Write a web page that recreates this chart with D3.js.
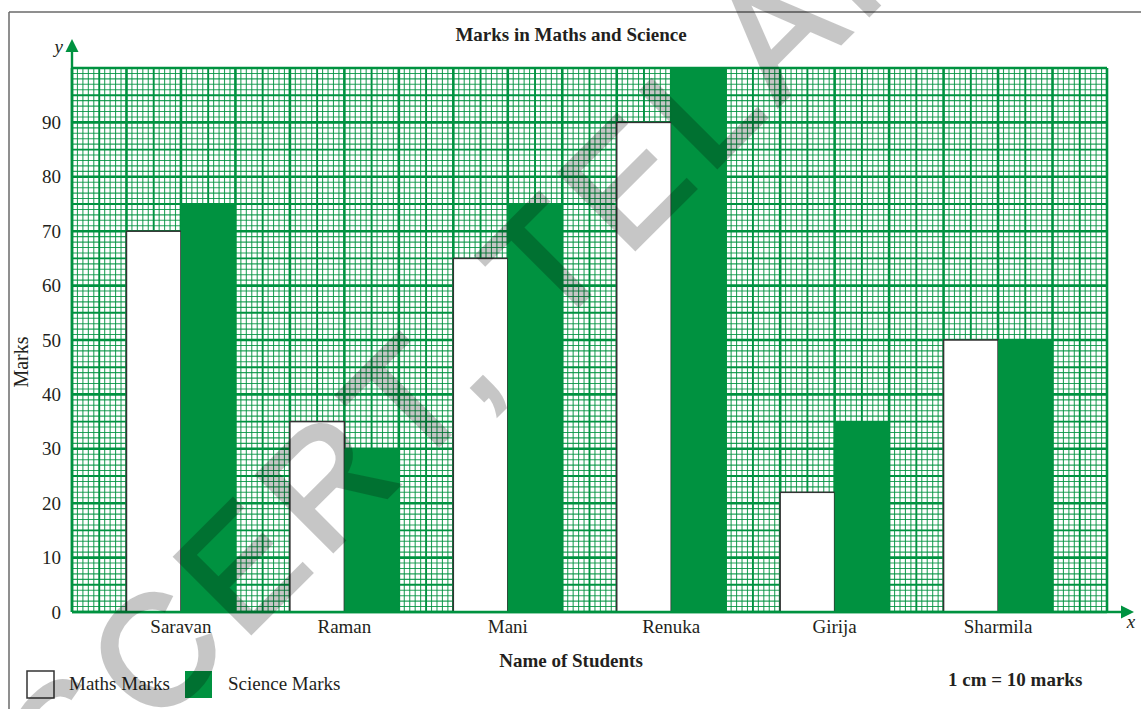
<!DOCTYPE html>
<html>
<head>
<meta charset="utf-8">
<script src="https://cdn.jsdelivr.net/npm/d3@7"></script>
<style>
  html, body { margin: 0; padding: 0; background: #fff; }
  svg { display: block; }
</style>
</head>
<body>
<svg id="chart" width="1141" height="709"></svg>
<script>
// ---- data ----
const students = ["Saravan", "Raman", "Mani", "Renuka", "Girija", "Sharmila"];
const mathsMarks = [70, 35, 65, 90, 22, 50];
const scienceMarks = [75, 30, 75, 100, 35, 50];
const series = ["Maths Marks", "Science Marks"];
const yTickValues = [0, 10, 20, 30, 40, 50, 60, 70, 80, 90];
const chartTitle = "Marks in Maths and Science";
const xTitle = "Name of Students";
const yTitle = "Marks";
const scaleNote = "1 cm = 10 marks";
const watermark = "SCERT, TELANGANA";

(function () {
// ---- layout ----
const GREEN = "#009240";
const svg = d3.select("#chart");
const pLeft = 72, pRight = 1107, pTop = 68, pBottom = 612;
const serif = "'Liberation Serif', 'Times New Roman', serif";

const y = d3.scaleLinear().domain([0, 100]).range([pBottom, pTop]);
const x = d3.scaleBand().domain(students).range([pLeft, pRight]).paddingInner(1 / 3).paddingOuter(1 / 3);
const xs = d3.scaleBand().domain(series).range([0, x.bandwidth()]);
// millimetre grid: 19 cm wide, 10 cm tall
const gx = d3.scaleLinear().domain([0, 190]).range([pLeft, pRight]);

// frame
svg.append("line").attr("x1", 9).attr("x2", 1141).attr("y1", 12).attr("y2", 12)
  .attr("stroke", "#6a6a6a").attr("stroke-width", 1.5);
svg.append("line").attr("x1", 9).attr("x2", 9).attr("y1", 12).attr("y2", 709)
  .attr("stroke", "#6a6a6a").attr("stroke-width", 1.5);

// grid
const grid = svg.append("g");
function lineStyle(sel, i) {
  if (i % 10 === 0) sel.attr("stroke-width", 2.6).attr("stroke-opacity", 1);
  else if (i % 5 === 0) sel.attr("stroke-width", 1.9).attr("stroke-opacity", 1);
  else sel.attr("stroke-width", 1.1).attr("stroke-opacity", 0.85);
}
d3.range(0, 191).forEach(i => {
  grid.append("line").attr("x1", gx(i)).attr("x2", gx(i)).attr("y1", pTop).attr("y2", pBottom)
    .attr("stroke", GREEN).call(lineStyle, i);
});
d3.range(0, 101).forEach(j => {
  grid.append("line").attr("x1", pLeft).attr("x2", pRight).attr("y1", y(j)).attr("y2", y(j))
    .attr("stroke", GREEN).call(lineStyle, j);
});

// bars
const groups = svg.append("g").selectAll("g").data(students).join("g")
  .attr("transform", d => `translate(${x(d)},0)`);
groups.append("rect")
  .attr("x", xs("Maths Marks")).attr("width", xs.bandwidth())
  .attr("y", (d, i) => y(mathsMarks[i])).attr("height", (d, i) => y(0) - y(mathsMarks[i]))
  .attr("fill", "#fff").attr("stroke", "#333").attr("stroke-width", 1.5);
groups.append("rect")
  .attr("x", xs("Science Marks")).attr("width", xs.bandwidth())
  .attr("y", (d, i) => y(scienceMarks[i])).attr("height", (d, i) => y(0) - y(scienceMarks[i]))
  .attr("fill", GREEN);

// axes lines + arrows
svg.append("line").attr("x1", pLeft).attr("x2", pLeft).attr("y1", pBottom).attr("y2", 50)
  .attr("stroke", GREEN).attr("stroke-width", 2.4);
svg.append("path").attr("d", `M${pLeft},39 L${pLeft - 6.5},52 L${pLeft + 6.5},52 Z`).attr("fill", GREEN);
svg.append("line").attr("x1", pLeft).attr("x2", 1124).attr("y1", pBottom).attr("y2", pBottom)
  .attr("stroke", GREEN).attr("stroke-width", 2.4);
svg.append("path").attr("d", `M1134,${pBottom} L1121,${pBottom - 6.5} L1121,${pBottom + 6.5} Z`).attr("fill", GREEN);

svg.append("text").attr("x", 63).attr("y", 53).attr("text-anchor", "end")
  .attr("font-family", serif).attr("font-style", "italic").attr("font-size", 19).attr("fill", "#231f20").text("y");
svg.append("text").attr("x", 1131).attr("y", 628).attr("text-anchor", "middle")
  .attr("font-family", serif).attr("font-style", "italic").attr("font-size", 19).attr("fill", "#231f20").text("x");

// y tick labels
svg.append("g").selectAll("text").data(yTickValues).join("text")
  .attr("x", 61).attr("y", d => y(d)).attr("dy", "0.35em").attr("text-anchor", "end")
  .attr("font-family", serif).attr("font-size", 19).attr("fill", "#231f20").text(d => d);

// x category labels
svg.append("g").selectAll("text").data(students).join("text")
  .attr("x", d => x(d) + x.bandwidth() / 2).attr("y", 633).attr("text-anchor", "middle")
  .attr("font-family", serif).attr("font-size", 19).attr("fill", "#231f20").text(d => d);

// titles
svg.append("text").attr("x", 571).attr("y", 41).attr("text-anchor", "middle")
  .attr("font-family", serif).attr("font-weight", "bold").attr("font-size", 19).attr("fill", "#231f20").text(chartTitle);
svg.append("text").attr("x", 571).attr("y", 667).attr("text-anchor", "middle")
  .attr("font-family", serif).attr("font-weight", "bold").attr("font-size", 19).attr("fill", "#231f20").text(xTitle);
svg.append("text").attr("transform", "translate(28,362) rotate(-90)").attr("text-anchor", "middle")
  .attr("font-family", serif).attr("font-size", 20).attr("fill", "#231f20").text(yTitle);
svg.append("text").attr("x", 948).attr("y", 686)
  .attr("font-family", serif).attr("font-weight", "bold").attr("font-size", 19).attr("fill", "#231f20").text(scaleNote);

// legend
const legendX = [27, 185], legendTextX = [69, 228];
const legend = svg.append("g").selectAll("g").data(series).join("g");
legend.append("rect").attr("x", (d, i) => legendX[i]).attr("y", 671).attr("width", 27).attr("height", 27)
  .attr("fill", (d, i) => i === 0 ? "#fff" : GREEN)
  .attr("stroke", (d, i) => i === 0 ? "#333" : "none").attr("stroke-width", 1.5);
legend.append("text").attr("x", (d, i) => legendTextX[i]).attr("y", 690)
  .attr("font-family", serif).attr("font-size", 19).attr("fill", "#231f20").text(d => d);

// watermark
svg.append("g").attr("opacity", 0.22).append("text")
  .attr("transform", "translate(72,812) rotate(-45)")
  .attr("font-family", "'Liberation Sans', Arial, sans-serif").attr("font-weight", "normal")
  .attr("font-size", 156).attr("letter-spacing", 12)
  .attr("fill", "#000").attr("stroke", "#000").attr("stroke-width", 4).attr("stroke-linejoin", "miter")
  .text(watermark);
})();
</script>
</body>
</html>
